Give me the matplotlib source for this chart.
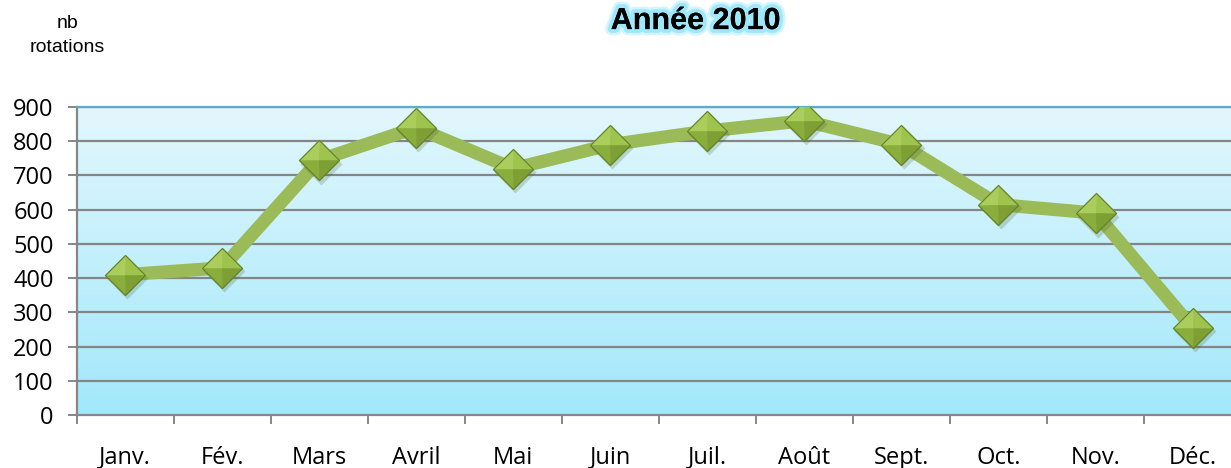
import numpy as np
import matplotlib
matplotlib.use("Agg")
import matplotlib.pyplot as plt
import matplotlib.patheffects as pe
import matplotlib.transforms as mtrans
from matplotlib.colors import LinearSegmentedColormap

months = ["Janv.", "Fév.", "Mars", "Avril", "Mai", "Juin", "Juil.", "Août",
          "Sept.", "Oct.", "Nov.", "Déc."]
rotations = [410, 430, 745, 840, 720, 790, 830, 860, 790, 615, 590, 255]
yticks = [0, 100, 200, 300, 400, 500, 600, 700, 800, 900]
title_text = "Année 2010"
ylabel_text = "nb\nrotations"

fig = plt.figure(figsize=(12.31, 4.68), dpi=100)
ax = fig.add_axes([0.0622, 0.1132, 0.946, 0.6581])

x = np.arange(len(months))
ax.set_xlim(-0.5, len(months) - 0.5)
ax.set_ylim(0, 900)

# gradient background
grad = np.linspace(0, 1, 256).reshape(-1, 1)
cmap = LinearSegmentedColormap.from_list("bg", ["#a2e8fb", "#e2f7fd"])
ax.imshow(grad, aspect="auto", cmap=cmap, origin="lower",
          extent=[-0.5, len(months) - 0.5, 0, 900], zorder=0)

# grid
for t in yticks[1:]:
    ax.axhline(t, color="#858585", lw=1.6, zorder=1)

# line
ax.plot(x, rotations, color="#9bbb59", lw=9.5, solid_joinstyle="miter",
        solid_capstyle="butt", zorder=3)

# shadow
shadow_tr = ax.transData + mtrans.ScaledTranslation(1.5/72, -2.5/72, fig.dpi_scale_trans)
ax.plot(x, rotations, linestyle="none", marker="D", ms=21,
        markerfacecolor="#4a5e2a", markeredgecolor="none", alpha=0.22,
        zorder=3.5, transform=shadow_tr)

# diamond facets
facets = [
    ([(0, 0), (-1, 0), (0, 1)], "#abcd5c"),
    ([(0, 0), (0, 1), (1, 0)], "#9fc44e"),
    ([(0, 0), (-1, 0), (0, -1)], "#8aae3c"),
    ([(0, 0), (0, -1), (1, 0)], "#7d9f33"),
]
for verts, col in facets:
    ax.plot(x, rotations, linestyle="none", marker=verts + [verts[0]], ms=29.5,
            markerfacecolor=col, markeredgecolor=col, markeredgewidth=0.3,
            zorder=4)
ax.plot(x, rotations, linestyle="none", marker="D", ms=20.8,
        markerfacecolor="none", markeredgecolor="#62802a",
        markeredgewidth=0.8, zorder=5)

# spines
for s in ["left", "bottom"]:
    ax.spines[s].set_color("#868686")
    ax.spines[s].set_linewidth(1.6)
ax.spines["top"].set_color("#5aaec6")
ax.spines["top"].set_linewidth(1.6)
ax.spines["right"].set_visible(False)

ax.set_yticks(yticks)
ax.set_yticklabels([str(v) for v in yticks], fontsize=17, family="Open Sans")
ax.tick_params(axis="y", length=6.5, width=1.4, color="#868686", pad=10)

ax.set_xticks(x)
ax.set_xticklabels(months, fontsize=17, family="Open Sans")
ax.set_xticks(np.arange(-0.5, len(months) - 0.4, 1), minor=True)
ax.tick_params(axis="x", which="major", length=0, pad=22)
ax.tick_params(axis="x", which="minor", length=6.5, width=1.4, color="#868686")

# title with glow
glow = [pe.withStroke(linewidth=9, foreground="#d4f5fd"),
        pe.withStroke(linewidth=5.5, foreground="#9fe8fb"),
        pe.Normal()]
fig.text(0.565, 0.955, title_text, ha="center", va="center", fontsize=22,
         fontweight="bold", family="Liberation Sans", color="black",
         path_effects=glow)

fig.text(0.055, 0.924, ylabel_text, ha="center", va="center", fontsize=14,
         family="Liberation Sans", linespacing=1.5)

fig.savefig("out.png", dpi=100)
